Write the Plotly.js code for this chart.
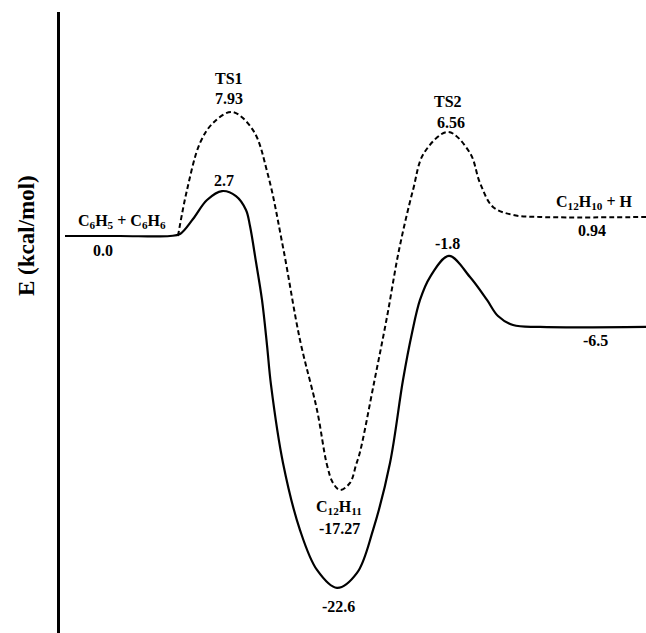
<!DOCTYPE html>
<html>
<head>
<meta charset="utf-8">
<script src="https://cdn.plot.ly/plotly-3.0.1.min.js"></script>
<style>html,body{margin:0;padding:0;background:#fff;}#chart{width:646px;height:633px;}</style>
</head>
<body>
<div id="chart"></div>
<script>
// Reaction coordinate (arbitrary units) and drawn energy (kcal/mol)
const solidX = [5, 60, 110, 120, 133, 147, 162, 176, 186, 190, 196, 202, 207, 211, 223, 240, 257, 277, 297, 313, 330, 343, 352, 360, 370, 389, 410, 427, 438, 453, 480, 586];
const solidE = [0, 0, 0, 0.13, 1.09, 2.31, 2.88, 2.56, 1.67, 0.64, -1.67, -4.10, -6.99, -9.55, -14.55, -18.85, -21.41, -22.56, -21.60, -18.85, -14.55, -9.23, -6.22, -4.10, -2.63, -1.28, -2.63, -4.10, -5.13, -5.71, -5.83, -5.83];

const dashX = [118, 127, 140, 153, 172, 193, 208, 223, 240, 257, 267, 273, 280, 290, 296, 300, 314, 327, 339, 353, 364, 388, 410, 420, 433, 453, 480, 586];
const dashE = [0, 2.95, 5.96, 7.24, 7.95, 6.79, 3.91, -0.71, -6.67, -11.15, -14.68, -15.83, -16.28, -15.83, -14.68, -13.85, -9.42, -5.19, -0.90, 2.95, 5.32, 6.67, 5.32, 3.40, 1.86, 1.35, 1.22, 1.22];

// Text labels of the stationary points
const labelTexts = [
  "C<sub>6</sub>H<sub>5</sub> + C<sub>6</sub>H<sub>6</sub>", "0.0",
  "TS1", "7.93", "2.7",
  "TS2", "6.56", "-1.8",
  "C<sub>12</sub>H<sub>10</sub> + H", "0.94", "-6.5",
  "C<sub>12</sub>H<sub>11</sub>", "-17.27", "-22.6"
];
const labelX = [62, 43, 169, 169, 164, 388, 391, 387, 534, 532, 535, 279, 279, 278];
const labelY = [0.90, -0.96, 10.08, 8.82, 3.53, 8.63, 7.29, -0.51, 2.12, 0.38, -6.73, -17.41, -18.76, -23.72];

const yTitle = "E (kcal/mol)";

const FONT = "'Liberation Serif', 'Times New Roman', serif";

const traces = [
  {x: solidX, y: solidE, mode: 'lines', line: {color: '#000', width: 2.2, shape: 'spline', smoothing: 1}, hoverinfo: 'skip'},
  {x: dashX, y: dashE, mode: 'lines', line: {color: '#000', width: 2, dash: '5px,3px', shape: 'spline', smoothing: 1}, hoverinfo: 'skip'}
];

const annotations = labelTexts.map((t, i) => ({
  x: labelX[i], y: labelY[i], xref: 'x', yref: 'y',
  text: '<b>' + t + '</b>', showarrow: false,
  font: {family: FONT, size: 16, color: '#000'},
  borderpad: 0, borderwidth: 0,
  xanchor: 'center', yanchor: 'middle'
}));
annotations.push({
  x: -0.058, y: 0, xref: 'paper', yref: 'y',
  text: '<b>' + yTitle + '</b>', textangle: -90, showarrow: false,
  font: {family: FONT, size: 23, color: '#000'},
  xanchor: 'center', yanchor: 'middle'
});

const layout = {
  width: 646, height: 633,
  margin: {l: 60, r: 0, t: 12, b: 0, pad: 0},
  paper_bgcolor: '#fff', plot_bgcolor: '#fff',
  showlegend: false,
  xaxis: {range: [0, 586], showgrid: false, zeroline: false, showline: false, showticklabels: false, ticks: ''},
  yaxis: {range: [-25.45, 14.36], showgrid: false, zeroline: false, showline: true, linecolor: '#000', linewidth: 2.5, showticklabels: false, ticks: ''},
  annotations: annotations
};

Plotly.newPlot('chart', traces, layout, {displayModeBar: false});
</script>
</body>
</html>
